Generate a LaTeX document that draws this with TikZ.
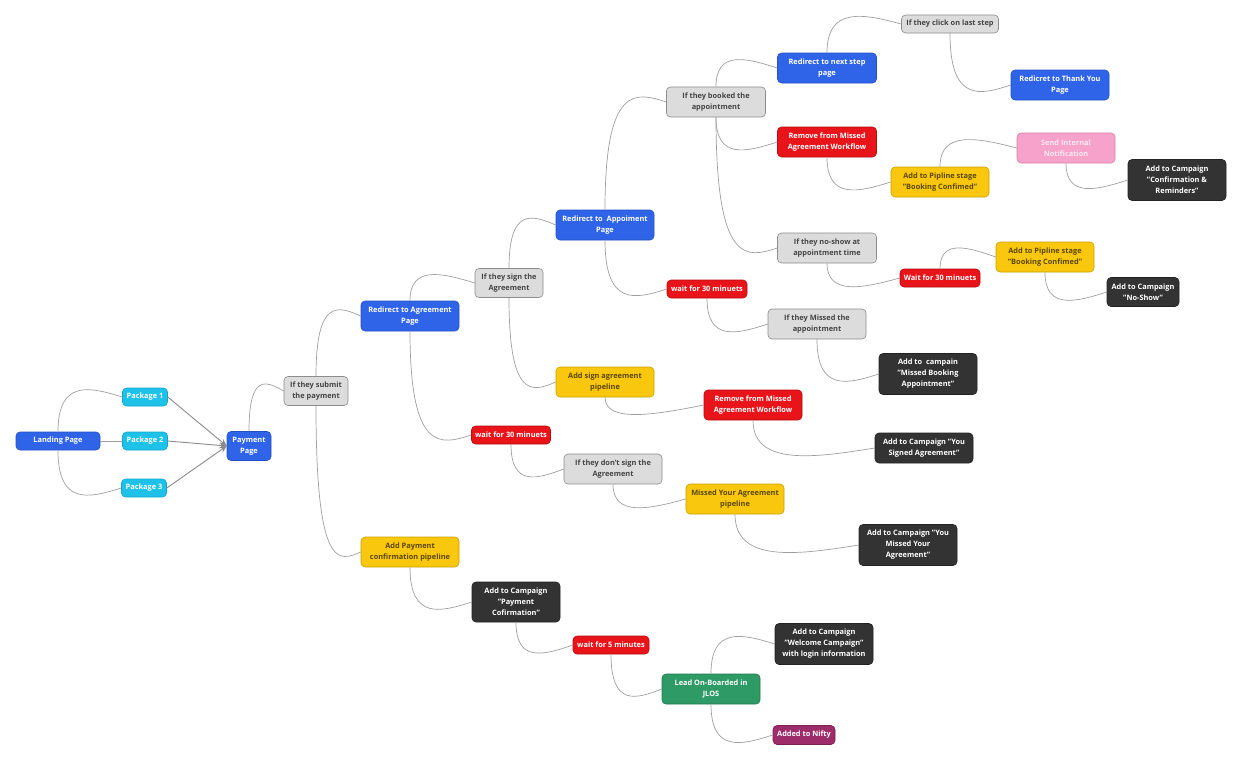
\documentclass[tikz,border=0pt]{standalone}
\usepackage{fontspec}
\setmainfont{Open Sans}
\usetikzlibrary{calc,arrows.meta}
\definecolor{cblue}{HTML}{3064E8}
\definecolor{cbluebd}{HTML}{2450C0}
\definecolor{ccyan}{HTML}{1EC2E8}
\definecolor{ccyanbd}{HTML}{12A6CC}
\definecolor{cgray}{HTML}{DCDCDC}
\definecolor{cgraybd}{HTML}{8C8C8C}
\definecolor{cgraytx}{HTML}{454545}
\definecolor{cred}{HTML}{E8141A}
\definecolor{credbd}{HTML}{B50C10}
\definecolor{cyel}{HTML}{F9C80E}
\definecolor{cyelbd}{HTML}{C9A000}
\definecolor{cyeltx}{HTML}{5A4600}
\definecolor{cdark}{HTML}{333333}
\definecolor{cdarkbd}{HTML}{222222}
\definecolor{cgreen}{HTML}{2E9A66}
\definecolor{cgreenbd}{HTML}{217A4E}
\definecolor{cpurp}{HTML}{9C2C6A}
\definecolor{cpurpbd}{HTML}{7A1F52}
\definecolor{cpink}{HTML}{F7A2CA}
\definecolor{cpinkbd}{HTML}{D880A8}
\definecolor{cpinktx}{HTML}{FDEAF3}
\definecolor{cline}{HTML}{9E9E9E}
\definecolor{carrow}{HTML}{8A8A8A}
\newcommand\bup[2]{\draw[conn] (#1.north) .. controls ($(#1.north |- #2.west)+(0,-18)$) and ($(#1.north |- #2.west)!0.5!(#2.west)+(0,-10)$) .. (#2.west);}
\newcommand\bdn[2]{\draw[conn] (#1.south) .. controls ($(#1.south |- #2.west)+(0,18)$) and ($(#1.south |- #2.west)!0.5!(#2.west)+(0,10)$) .. (#2.west);}
\begin{document}
\begin{tikzpicture}[x=1pt,y=-1pt,
  box/.style={rectangle,rounded corners=4pt,inner sep=0pt,align=center,line width=0.6pt,
    font=\fontsize{7.4}{11}\selectfont\bfseries},
  wh/.style 2 args={minimum width=#1,minimum height=#2},
  bluebox/.style={box,fill=cblue,draw=cbluebd,text=white},
  cyanbox/.style={box,fill=ccyan,draw=ccyanbd,text=white},
  graybox/.style={box,fill=cgray,draw=cgraybd,text=cgraytx},
  redbox/.style={box,fill=cred,draw=credbd,text=white},
  yelbox/.style={box,fill=cyel,draw=cyelbd,text=cyeltx},
  darkbox/.style={box,fill=cdark,draw=cdarkbd,text=white},
  greenbox/.style={box,fill=cgreen,draw=cgreenbd,text=white},
  purpbox/.style={box,fill=cpurp,draw=cpurpbd,text=white},
  pinkbox/.style={box,fill=cpink,draw=cpinkbd,text=cpinktx},
  conn/.style={draw=cline,line width=0.7pt},
  arr/.style={draw=carrow,line width=0.9pt,-{Stealth[length=7pt,width=6pt]}}]
\useasboundingbox (0,0) rectangle (1242,761);
% nodes
\node[bluebox,wh={84}{18}] (land) at (58,441) {Landing Page};
\node[cyanbox,wh={45}{18}] (p1) at (145,397) {Package 1};
\node[cyanbox,wh={45}{18}] (p2) at (145,441) {Package 2};
\node[cyanbox,wh={45}{18}] (p3) at (144,488) {Package 3};
\node[bluebox,wh={44}{29}] (pay) at (249,446) {Payment\\Page};
\node[graybox,wh={64}{29}] (submit) at (316,391) {If they submit\\the payment};
\node[bluebox,wh={98}{30}] (redag) at (410,316) {Redirect to Agreement\\Page};
\node[graybox,wh={68}{29}] (sign) at (509,283) {If they sign the\\Agreement};
\node[redbox,wh={79}{18}] (wait1) at (511,435) {wait for 30 minuets};
\node[yelbox,wh={98}{30}] (addpay) at (410,552) {Add Payment\\confirmation pipeline};
\node[darkbox,wh={88}{40}] (campay) at (516,602) {Add to Campaign\\"Payment\\Cofirmation"};
\node[redbox,wh={76}{18}] (wait5) at (611,645) {wait for 5 minutes};
\node[greenbox,wh={98}{30}] (lead) at (711,689) {Lead On-Boarded in\\JLOS};
\node[darkbox,wh={98}{41}] (welcome) at (824,644) {Add to Campaign\\"Welcome Campaign"\\with login information};
\node[purpbox,wh={62}{19}] (nifty) at (804,735) {Added to Nifty};
\node[bluebox,wh={98}{30}] (redapp) at (605,225) {Redirect to\ \ Appoiment\\Page};
\node[redbox,wh={80}{18}] (wait2) at (707,289) {wait for 30 minuets};
\node[yelbox,wh={98}{30}] (addsign) at (605,382) {Add sign agreement\\pipeline};
\node[redbox,wh={98}{30}] (rem2) at (753,405) {Remove from Missed\\Agreement Workflow};
\node[darkbox,wh={98}{30}] (yousigned) at (924,448) {Add to Campaign "You\\Signed Agreement"};
\node[graybox,wh={98}{30}] (dontsign) at (613,469) {If they don’t sign the\\Agreement};
\node[yelbox,wh={98}{30}] (missedag) at (735,499) {Missed Your Agreement\\pipeline};
\node[darkbox,wh={98}{41}] (youmissed) at (908,545) {Add to Campaign "You\\Missed Your\\Agreement"};
\node[graybox,wh={99}{30}] (booked) at (716,102) {If they booked the\\appointment};
\node[graybox,wh={99}{30}] (noshow) at (827,248) {If they no-show at\\appointment time};
\node[graybox,wh={98}{30}] (missedapp) at (817,324) {If they Missed the\\appointment};
\node[darkbox,wh={98}{41}] (campain) at (928,374) {Add to\ \ campain\\"Missed Booking\\Appointment"};
\node[bluebox,wh={99}{30}] (nextstep) at (827,68) {Redirect to next step\\page};
\node[redbox,wh={99}{30}] (rem1) at (827,142) {Remove from Missed\\Agreement Workflow};
\node[graybox,wh={97}{18}] (click) at (950,24) {If they click on last step};
\node[bluebox,wh={98}{30}] (thanks) at (1060,85) {Redicret to Thank You\\Page};
\node[yelbox,wh={98}{30}] (pip1) at (940,182) {Add to Pipline stage\\"Booking Confimed"};
\node[pinkbox,wh={98}{30}] (notif) at (1066,148) {Send Internal\\Notification};
\node[darkbox,wh={98}{41}] (confirm) at (1177,180) {Add to Campaign\\"Confirmation \&\\Reminders"};
\node[redbox,wh={80}{18}] (wait3) at (940,278) {Wait for 30 minuets};
\node[yelbox,wh={98}{30}] (pip2) at (1045,257) {Add to Pipline stage\\"Booking Confimed"};
\node[darkbox,wh={72}{29}] (noshowc) at (1143,292) {Add to Campaign\\"No-Show"};
% connectors
\bup{land}{p1}
\bdn{land}{p3}
\draw[conn] (land.east) -- (p2.west);
\draw[arr] (p1.east) -- (pay.west);
\draw[arr] (p2.east) -- (pay.west);
\draw[arr] (p3.east) -- (pay.west);
\bup{pay}{submit}
\bup{submit}{redag}
\bdn{submit}{addpay}
\bup{redag}{sign}
\bdn{redag}{wait1}
\bdn{wait1}{dontsign}
\bdn{dontsign}{missedag}
\bdn{missedag}{youmissed}
\bup{sign}{redapp}
\bdn{sign}{addsign}
\bdn{addsign}{rem2}
\bdn{rem2}{yousigned}
\bup{redapp}{booked}
\bdn{redapp}{wait2}
\bdn{wait2}{missedapp}
\bdn{missedapp}{campain}
\bup{booked}{nextstep}
\bdn{booked}{rem1}
\bdn{booked}{noshow}
\bup{nextstep}{click}
\bdn{click}{thanks}
\bdn{rem1}{pip1}
\bup{pip1}{notif}
\bdn{notif}{confirm}
\bdn{noshow}{wait3}
\bup{wait3}{pip2}
\bdn{pip2}{noshowc}
\bdn{addpay}{campay}
\bdn{campay}{wait5}
\bdn{wait5}{lead}
\bup{lead}{welcome}
\bdn{lead}{nifty}
\end{tikzpicture}
\end{document}
